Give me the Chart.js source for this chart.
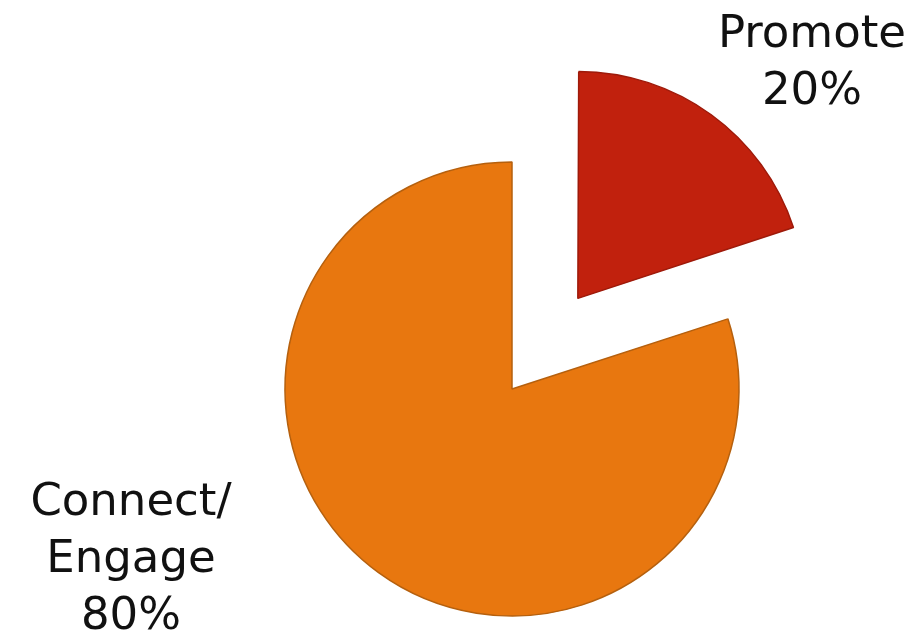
<!DOCTYPE html>
<html>
<head>
<meta charset="utf-8">
<script src="https://cdn.jsdelivr.net/npm/chart.js@4/dist/chart.umd.min.js"></script>
<style>
  html, body { margin: 0; padding: 0; background: #fff; }
  #box { width: 917px; height: 635px; }
</style>
</head>
<body>
<div id="box"><canvas id="grafico"></canvas></div>
<script>
// dados
const categorias = ['Promote', 'Connect/Engage']
const linhasRotulo = [['Promote', '20%'], ['Connect/', 'Engage', '80%']]
const valores = [20, 80]
const cores = ['#c1210d', '#e8770f']
const bordas = ['#9e1a0a', '#b5600e']

// rotulos fora da pizza
const rotulos = {
    id: 'rotulos',
    afterDatasetsUpdate(chart) {
        // chart.js aumenta o raio da fatia destacada, volta ao raio normal
        const arco = chart.getDatasetMeta(0).data[0]
        const fix = 1 - Math.sin(Math.min(Math.PI, arco.circumference))
        arco.outerRadius -= 448 / 4 * fix
    },
    afterDraw(chart) {
        const c = chart.ctx
        const pos = [[812, 47], [131, 515]]
        c.save()
        c.fillStyle = '#111'
        c.font = '45px "DejaVu Sans", sans-serif'
        c.textAlign = 'center'
        c.textBaseline = 'alphabetic'
        linhasRotulo.forEach((linhas, i) => {
            linhas.forEach((t, j) => {
                c.fillText(t, pos[i][0], pos[i][1] + j * 57)
            })
        })
        c.restore()
    }
}

// chart.js desenha o offset dividido por 4
new Chart(document.getElementById('grafico'), {
    type: 'pie',
    data: {
        labels: categorias,
        datasets: [{
            data: valores,
            backgroundColor: cores,
            borderColor: bordas,
            borderWidth: 1.5,
            offset: [448, 0]
        }]
    },
    options: {
        responsive: true,
        maintainAspectRatio: false,
        animation: false,
        radius: 227,
        layout: { padding: { left: 107, right: 0, top: 143, bottom: 0 } },
        plugins: {
            legend: { display: false },
            tooltip: { enabled: false }
        }
    },
    plugins: [rotulos]
})
</script>
</body>
</html>
